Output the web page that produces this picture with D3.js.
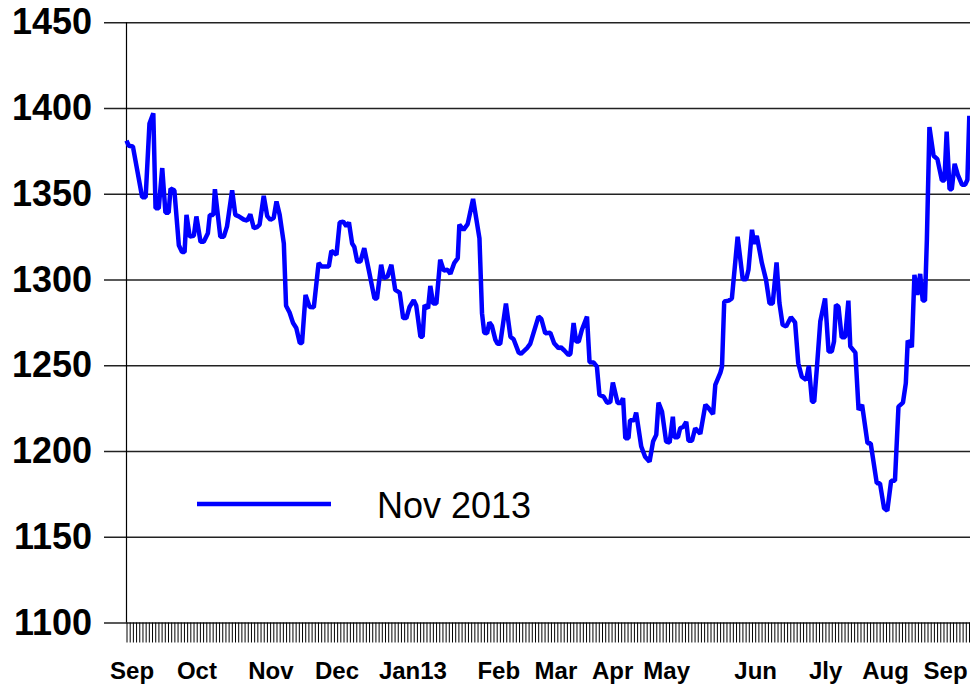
<!DOCTYPE html>
<html>
<head>
<meta charset="utf-8">
<script src="https://cdn.jsdelivr.net/npm/d3@7"></script>
<style>
  body { margin: 0; background: #fff; }
  svg text { font-family: "Liberation Sans", Arial, sans-serif; }
</style>
</head>
<body>
<svg id="chart" width="970" height="687"></svg>
<script>
// trading-day index (x) and price (y)
const day = [0, 0.7, 2, 4.9, 6, 7.2, 8.4, 9.1, 10.1, 11.2, 12.2, 13.2, 13.8, 15, 16.4, 17.4, 18.2, 18.8, 19.8, 21.1,
  21.9, 23.2, 24.2, 25.5, 26.1, 27.2, 27.7, 29.4, 30.5, 31.5, 33.1, 34.1, 35.2, 36.7, 37.8, 38.8, 39.9, 40.9, 41.7, 43,
  44.1, 45.1, 46.1, 47, 48, 49.3, 50, 51.1, 52.2, 53.2, 54.3, 55, 56.1, 57.4, 58.7, 60.2, 61.1, 62, 63.4, 64.2,
  65.8, 66.8, 67.9, 68.9, 69.7, 70.7, 71.4, 72.3, 73.3, 74.5, 75.9, 77.7, 78.5, 79.8, 80.6, 81.8, 83, 84.2, 85.6, 86.7,
  87.7, 88.7, 90, 90.8, 92.1, 92.8, 93.4, 94.5, 95.2, 96.1, 97.1, 98.3, 99.4, 100.6, 101.5, 102.7, 103.8, 104.3, 105.6, 106.9,
  108.6, 110.6, 111.4, 112.1, 113, 113.7, 114.5, 115.6, 116.3, 117.1, 118.9, 120.3, 121.3, 122.9, 123.6, 125.5, 126.5, 129.1, 130, 131.2,
  132.8, 134, 135.4, 136.1, 137.2, 138.5, 139.1, 140.1, 140.9, 141.7, 142.7, 144.3, 145.1, 146.4, 147.4, 148.2, 149.5, 150.6, 151.6, 152.4,
  153.9, 154.9, 155.6, 156.3, 157.3, 157.8, 159.1, 159.7, 161.3, 162.5, 163.9, 165, 166, 166.7, 167.8, 169.1, 170.2, 171.2, 171.7, 172.8,
  173.5, 174.5, 175.4, 176.1, 177.2, 178.2, 179.8, 181.4, 182.4, 183.8, 184.5, 186.1, 186.6, 187.3, 188.7, 189.7, 191.5, 193.1, 194.2, 194.9,
  196, 196.7, 197.5, 199.1, 200.4, 201.5, 202.5, 203.7, 204.6, 205.6, 206.7, 208.2, 209.5, 210.5, 211.6, 213, 213.8, 214.8, 215.5, 216.3,
  217.4, 218.9, 220, 221, 221.7, 222.3, 223.1, 224.1, 225.2, 226.2, 226.8, 228.4, 229.4, 230.5, 232.2, 233.2, 235.1, 236.1, 237.4, 238.4,
  239.6, 240.8, 241.9, 243.3, 244.2, 244.8, 246.1, 246.9, 247.8, 248.7, 249.5, 250.2, 250.8, 251.6, 252.9, 254.1, 255.5, 256.3, 257, 257.9,
  258.6, 259.5, 260.5, 261.8, 262.8, 263.5, 264.1];
const price = [1381, 1378, 1377.6, 1348, 1348, 1391, 1397, 1341.6, 1341.6, 1365, 1339, 1339, 1353, 1352, 1320, 1316, 1316, 1337.7, 1325, 1325.5,
  1336.8, 1322, 1322, 1327, 1337.7, 1337.7, 1352.7, 1325, 1325, 1331, 1352, 1337.7, 1336.8, 1335, 1334.4, 1338, 1330, 1330.6, 1332, 1348.8,
  1337, 1334.8, 1335.8, 1345.5, 1337.7, 1321, 1284.7, 1280.8, 1274.6, 1271.7, 1263, 1263, 1291, 1284, 1283.9, 1309.6, 1307.6, 1307.6, 1307.6, 1316.7,
  1314.4, 1333.3, 1333.8, 1331, 1333.3, 1321, 1319, 1310.5, 1310.5, 1318.3, 1305.7, 1289, 1289, 1308.6, 1300.8, 1301.8, 1308.6, 1294, 1292.4, 1277.5,
  1277.5, 1284, 1288, 1284.7, 1266.7, 1266.7, 1285, 1283.3, 1296.3, 1286, 1286, 1311.5, 1305.3, 1305.7, 1303.3, 1309.6, 1312.5, 1332, 1329, 1332.3,
  1347, 1324, 1280.4, 1269, 1268.7, 1275, 1273, 1264.8, 1262.5, 1262.5, 1286, 1266.7, 1265.2, 1257.4, 1256.7, 1260, 1262.5, 1278.4, 1277, 1268.7,
  1269, 1262.9, 1260, 1260.5, 1258.6, 1256, 1256.7, 1274.6, 1263.8, 1263.8, 1270.7, 1278.4, 1251.8, 1251.6, 1249.2, 1232.7, 1231.7, 1228.2, 1228.5, 1240,
  1228, 1228, 1230.8, 1207.5, 1207.5, 1218, 1218, 1222.4, 1202.6, 1196.7, 1193.8, 1205.5, 1209.4, 1228.2, 1223, 1205.5, 1205, 1220, 1208, 1208,
  1213.3, 1214.2, 1217, 1206, 1206, 1213.3, 1210, 1227, 1225, 1221.5, 1238.6, 1245.7, 1249.2, 1287.2, 1287.7, 1289, 1325, 1300.2, 1300.2, 1305.7,
  1329, 1320.8, 1325.5, 1309.6, 1299.8, 1286, 1286, 1310, 1286.2, 1273.6, 1272.6, 1278, 1275, 1251.2, 1243.4, 1241.5, 1249.7, 1228.8, 1228.8, 1247.7,
  1275.5, 1289, 1258, 1258, 1263.8, 1285.2, 1284.2, 1266.4, 1266.4, 1287.7, 1261, 1257.4, 1224, 1226.9, 1204.5, 1204.5, 1181.2, 1181.2, 1166.6, 1165.2,
  1182.7, 1182.7, 1225.9, 1228.2, 1239.5, 1264.4, 1260.6, 1302.7, 1291, 1303.3, 1287.7, 1287.7, 1323.2, 1388.9, 1372.2, 1370.2, 1357.8, 1357.8, 1386.3, 1352.7,
  1352.7, 1367.5, 1361, 1355.3, 1355.3, 1358.2, 1395.5];

const nDays = 265;
const monthLabels = ["Sep", "Oct", "Nov", "Dec", "Jan13", "Feb", "Mar", "Apr", "May", "Jun", "Jly", "Aug", "Sep"];
const monthPos = [1.6, 21.9, 45.1, 65.8, 89.6, 116.5, 134.4, 152.2, 169.1, 197, 218.9, 237.7, 256.5];
const yTicks = [1100, 1150, 1200, 1250, 1300, 1350, 1400, 1450];
const seriesName = "Nov 2013";

const svg = d3.select("#chart");
const plot = { left: 126.5, right: 969, top: 22.3, bottom: 622.5 };

const x = d3.scaleLinear().domain([0, nDays - 1]).range([plot.left, plot.right]);
const y = d3.scaleLinear().domain([1100, 1450]).range([plot.bottom, plot.top]);

// gridlines + y labels
const yAxis = svg.append("g")
    .attr("transform", "translate(104,0)")
    .call(d3.axisLeft(y).tickValues(yTicks).tickFormat(d3.format("d"))
        .tickSize(-(970 - 104)).tickPadding(12));
yAxis.select(".domain").remove();
yAxis.selectAll(".tick line").attr("stroke", "#222").attr("stroke-width", 1.5);
yAxis.selectAll("text")
    .attr("fill", "#000")
    .style("font-size", "36px")
    .style("font-weight", "bold");

// left axis line
svg.append("line")
    .attr("x1", plot.left).attr("x2", plot.left)
    .attr("y1", plot.top).attr("y2", plot.bottom)
    .attr("stroke", "#000").attr("stroke-width", 1.2);

// daily ticks below the axis
const xTicks = svg.append("g")
    .attr("transform", `translate(0,${plot.bottom})`)
    .call(d3.axisBottom(x).tickValues(d3.range(nDays)).tickSize(20).tickFormat(""));
xTicks.select(".domain").remove();
xTicks.selectAll(".tick line").attr("stroke", "#000").attr("stroke-width", 1);

// month labels
const xLabels = svg.append("g")
    .attr("transform", `translate(0,${plot.bottom})`)
    .call(d3.axisBottom(x).tickValues(monthPos).tickSize(0).tickPadding(0)
        .tickFormat((d, i) => monthLabels[i]));
xLabels.select(".domain").remove();
xLabels.selectAll("text")
    .attr("y", 56)
    .attr("dy", 0)
    .attr("fill", "#000")
    .style("font-size", "24px")
    .style("font-weight", "bold");

// price line
const pts = day.map((d, i) => [d, price[i]]);
svg.append("path")
    .datum(pts)
    .attr("fill", "none")
    .attr("stroke", "#0000ff")
    .attr("stroke-width", 4.5)
    .attr("stroke-linejoin", "bevel")
    .attr("d", d3.line().x(d => x(d[0])).y(d => y(d[1])));

// legend
const legend = svg.append("g");
legend.append("line")
    .attr("x1", 197).attr("x2", 331)
    .attr("y1", 504).attr("y2", 504)
    .attr("stroke", "#0000ff").attr("stroke-width", 4.5);
legend.append("text")
    .attr("x", 377).attr("y", 518)
    .style("font-size", "36px")
    .text(seriesName);
</script>
</body>
</html>
